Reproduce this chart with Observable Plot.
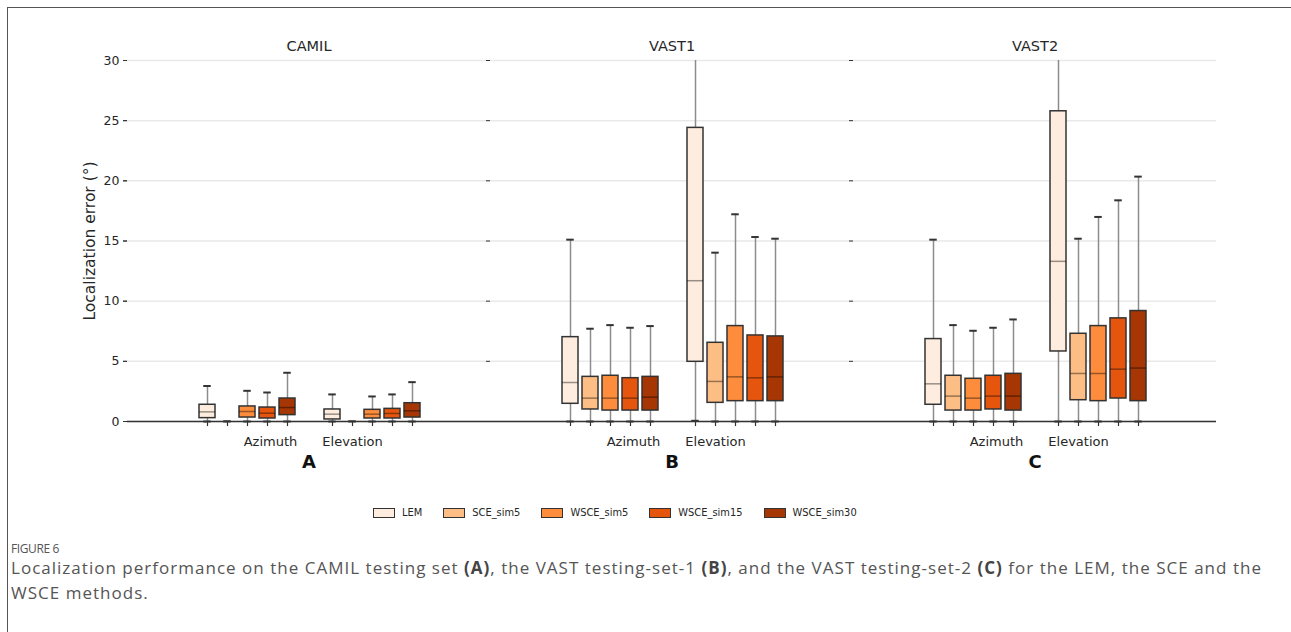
<!DOCTYPE html>
<html>
<head>
<meta charset="utf-8">
<script src="https://cdn.jsdelivr.net/npm/d3@7"></script>
<script src="https://cdn.jsdelivr.net/npm/@observablehq/plot@0.6"></script>
<style>
  html, body { margin: 0; padding: 0; background: #fff; width: 1291px; height: 632px; overflow: hidden; }
  #frame { position: absolute; left: 7px; top: 7px; width: 1400px; height: 700px;
           border-left: 1.5px solid #555; border-top: 1.5px solid #555; }
  #chart { position: absolute; left: 0; top: 0; }
  #chart svg { font-family: "DejaVu Sans", sans-serif !important; }
  #legend { position: absolute; left: 373px; top: 507px; display: flex; align-items: center;
            font-family: "DejaVu Sans"; font-size: 9.9px; color: #262626; }
  #legend .item { display: flex; align-items: center; margin-right: 21px; }
  #legend .sw { width: 22px; height: 10px; border: 1.2px solid #333; box-sizing: border-box; margin-right: 7px; }
  #fig { position: absolute; left: 11px; top: 540px; font-family: "Open Sans"; font-size: 12px;
         color: #555; letter-spacing: -0.4px; }
  #cap { position: absolute; left: 11px; top: 555px; width: 1275px; font-family: "Open Sans";
         font-size: 17px; line-height: 25px; color: #555; white-space: nowrap; }
  #cap b { font-weight: 700; color: #444; }
</style>
</head>
<body>
<div id="frame"></div>
<div id="chart"></div>
<div id="legend"></div>
<div id="fig">FIGURE 6</div>
<div id="cap"><span id="line1">Localization performance on the CAMIL testing set <b>(A)</b>, the VAST testing-set-1 <b>(B)</b>, and the VAST testing-set-2 <b>(C)</b> for the LEM, the SCE and the</span><br>WSCE methods.</div>
<script>
// ---- data ----
const panels = ["CAMIL", "VAST1", "VAST2"];
const panelLetters = ["A", "B", "C"];
const dims = ["Azimuth", "Elevation"];
const methods = ["LEM", "SCE_sim5", "WSCE_sim5", "WSCE_sim15", "WSCE_sim30"];
const methodColors = ["#feedde", "#fdbe85", "#fd8d3c", "#e6550d", "#a63603"];
const yTicks = [0, 5, 10, 15, 20, 25, 30];

// rows: CAMIL-Az, CAMIL-El, VAST1-Az, VAST1-El, VAST2-Az, VAST2-El ; columns follow `methods`
const whiskerLow = [
  [0, 0, 0, 0, 0], [0, 0, 0, 0, 0],
  [0, 0, 0, 0, 0], [0.06, 0, 0, 0, 0],
  [0, 0, 0, 0, 0], [0, 0, 0, 0, 0]
];
const q1 = [
  [0.28, 0, 0.33, 0.25, 0.53], [0.17, 0, 0.25, 0.25, 0.33],
  [1.47, 1.00, 0.91, 0.91, 0.91], [4.96, 1.55, 1.69, 1.69, 1.69],
  [1.39, 0.91, 0.91, 1.00, 0.91], [5.82, 1.77, 1.69, 1.91, 1.69]
];
const median = [
  [0.80, 0, 0.83, 0.69, 1.16], [0.61, 0, 0.61, 0.67, 0.89],
  [3.24, 1.94, 1.94, 1.94, 2.02], [11.70, 3.33, 3.71, 3.63, 3.71],
  [3.13, 2.11, 1.94, 2.11, 2.11], [13.31, 3.99, 3.99, 4.35, 4.44]
];
const q3 = [
  [1.39, 0, 1.25, 1.16, 1.91], [1.00, 0, 0.97, 1.05, 1.52],
  [7.01, 3.71, 3.80, 3.60, 3.71], [24.40, 6.54, 7.93, 7.15, 7.07],
  [6.85, 3.80, 3.55, 3.80, 3.96], [25.78, 7.29, 7.93, 8.57, 9.18]
];
const whiskerHigh = [
  [2.95, 0, 2.55, 2.41, 4.05], [2.25, 0, 2.08, 2.25, 3.27],
  [15.11, 7.71, 8.01, 7.79, 7.93], [38, 14.03, 17.22, 15.33, 15.19],
  [15.11, 8.01, 7.54, 7.79, 8.48], [40, 15.19, 17.00, 18.38, 20.35]
];

// ---- table ----
const dodge = 0.16, halfBox = 0.064, halfCap = 0.03;
const rows = [];
panels.forEach((p, pi) => dims.forEach((d, di) => methods.forEach((m, mi) => {
  const k = pi * 2 + di;
  rows.push({panel: p, dim: d, method: m, pos: di + (mi - 2) * dodge,
    lo: whiskerLow[k][mi], q1: q1[k][mi], med: median[k][mi], q3: q3[k][mi], hi: whiskerHigh[k][mi]});
})));
const dimLabels = [];
panels.forEach(p => dims.forEach((d, di) => dimLabels.push({panel: p, dim: d, di})));
const letters = panels.map((p, i) => ({panel: p, letter: panelLetters[i]}));
const boxes = rows.filter(d => d.q3 > d.q1);

const chart = Plot.plot({
  width: 1291, height: 475,
  marginTop: 60, marginBottom: 54, marginLeft: 127, marginRight: 75,
  style: {fontFamily: "DejaVu Sans", fontSize: "12.5px", color: "#262626", background: "transparent"},
  fx: {domain: panels, padding: 0},
  x: {domain: [-0.96, 1.944], axis: null},
  y: {domain: [0, 30], axis: null},
  color: {domain: methods, range: methodColors},
  marks: [
    Plot.ruleY(yTicks, {stroke: "#e9e9e9", strokeWidth: 1.5}),
    Plot.axisY({ticks: yTicks, tickSize: 4, tickPadding: 4, tickFormat: () => "", label: null, facetAnchor: null, stroke: "#333"}),
    Plot.axisY({ticks: yTicks, tickSize: 4, tickPadding: 4, label: null, fontSize: 12.5, stroke: "#333"}),
    Plot.text(["Localization error (°)"], {frameAnchor: "left", facetAnchor: "left", rotate: -90, textAnchor: "middle",
      dx: -37, fontSize: 15.5, fill: "#262626"}),
    Plot.axisFx({anchor: "top", tickSize: 0, tickPadding: 10, label: null, fontSize: 14.5}),
    Plot.ruleX(rows, {fx: "panel", x: "pos", y1: "lo", y2: "hi", stroke: "#8c8c8c", strokeWidth: 1.5, clip: true}),
    Plot.ruleY(rows, {fx: "panel", y: "hi", x1: d => d.pos - halfCap, x2: d => d.pos + halfCap, stroke: "#333", strokeWidth: 2, clip: true}),
    Plot.ruleY(rows, {fx: "panel", y: "lo", x1: d => d.pos - halfCap, x2: d => d.pos + halfCap, stroke: "#333", strokeWidth: 2}),
    Plot.rect(boxes, {fx: "panel", x1: d => d.pos - halfBox, x2: d => d.pos + halfBox,
      y1: "q1", y2: "q3", fill: "method", stroke: "#333", strokeWidth: 1.5}),
    Plot.ruleY(boxes, {fx: "panel", y: "med", x1: d => d.pos - halfBox, x2: d => d.pos + halfBox,
      stroke: "#000", strokeOpacity: 0.4, strokeWidth: 1.5}),
    Plot.ruleY([0], {stroke: "#333", strokeWidth: 1.3}),
    Plot.ruleX(rows, {fx: "panel", x: "pos", y1: 0, y2: -0.42, stroke: "#333", strokeWidth: 1.2}),
    Plot.text(dimLabels.filter(d => d.di === 0), {fx: "panel", x: "di", frameAnchor: "bottom", text: "dim", dy: 20, dx: 23, lineAnchor: "middle", fontSize: 13}),
    Plot.text(dimLabels.filter(d => d.di === 1), {fx: "panel", x: "di", frameAnchor: "bottom", text: "dim", dy: 20, dx: -20, lineAnchor: "middle", fontSize: 13}),
    Plot.text(letters, {fx: "panel", frameAnchor: "bottom", text: "letter", dy: 41, lineAnchor: "middle", fontSize: 18, fontWeight: "bold", fill: "#111"})
  ]
});
document.getElementById("chart").appendChild(chart);

// legend
const leg = document.getElementById("legend");
methods.forEach((m, i) => {
  const it = document.createElement("div"); it.className = "item";
  const sw = document.createElement("div"); sw.className = "sw"; sw.style.background = methodColors[i];
  const lb = document.createElement("span"); lb.textContent = m;
  it.appendChild(sw); it.appendChild(lb); leg.appendChild(it);
});

// fit caption line width to the reference line length
const line1 = document.getElementById("line1");
const w = line1.getBoundingClientRect().width;
const nChars = line1.textContent.length;
const ls = (1251 - w) / nChars;
document.getElementById("cap").style.letterSpacing = ls + "px";
</script>
</body>
</html>
